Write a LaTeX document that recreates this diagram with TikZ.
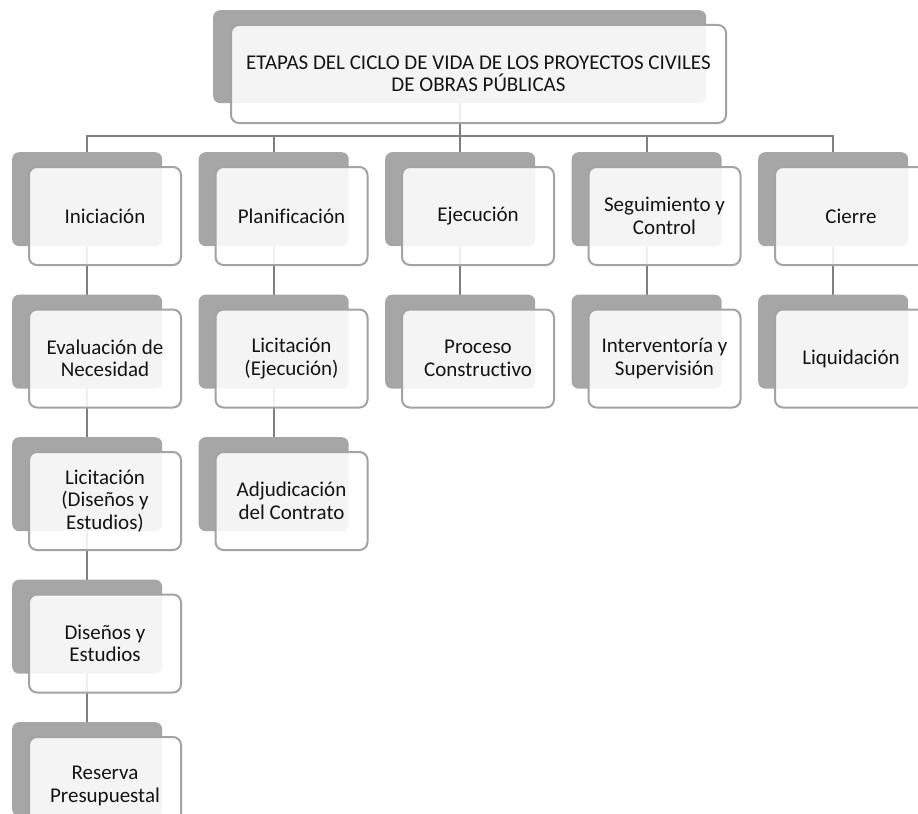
\documentclass[tikz,border=0pt]{standalone}
\usepackage{fontspec}
\setmainfont{Carlito}[Ligatures={NoCommon}]
\usetikzlibrary{backgrounds}
\definecolor{backgray}{HTML}{A6A6A6}
\definecolor{edgegray}{HTML}{A3A3A3}
\definecolor{linkgray}{HTML}{7F7F7F}
\definecolor{txtcol}{HTML}{141414}
\newcommand\twobox[4]{%
  \node[backbox] (#1) at (#2,#3) {};
  \node[frontbox] (#1f) at (#2+16,#3+14) {#4};}
\begin{document}
\begin{tikzpicture}[x=1bp,y=-1bp,
  backbox/.style={fill=backgray, rounded corners=7bp, minimum width=150bp, minimum height=94bp, inner sep=0pt, anchor=north west},
  frontbox/.style={fill=white, fill opacity=0.88, text opacity=1, draw=edgegray, line width=2bp, rounded corners=8bp, minimum width=152bp, minimum height=98bp, inner sep=0pt, anchor=north west, align=center, text=txtcol, font=\fontsize{21bp}{22.5bp}\selectfont},
  link/.style={draw=linkgray, line width=2.4bp}]
\useasboundingbox (0,0) rectangle (918,814);
\clip (0,0) rectangle (918,814);

% top
\node[backbox, minimum width=493bp, minimum height=93bp] (top) at (213,10) {};
\node[frontbox, minimum width=495bp, minimum height=98bp] (topf) at (230,24)
  {ETAPAS DEL CICLO DE VIDA DE LOS PROYECTOS CIVILES\\DE OBRAS PÚBLICAS};

% column 1
\twobox{a1}{12}{152}{Iniciación}
\twobox{a2}{12}{294.5}{Evaluación de\\Necesidad}
\twobox{a3}{12}{437}{Licitación\\(Diseños y\\Estudios)}
\twobox{a4}{12}{579.5}{Diseños y\\Estudios}
\twobox{a5}{12}{722}{Reserva\\Presupuestal}
% column 2
\twobox{b1}{198.5}{152}{Planificación}
\twobox{b2}{198.5}{294.5}{Licitación\\(Ejecución)}
\twobox{b3}{198.5}{437}{Adjudicación\\del Contrato}
% column 3
\twobox{c1}{385}{152}{Ejecución}
\twobox{c2}{385}{294.5}{Proceso\\Constructivo}
% column 4
\twobox{d1}{571.5}{152}{Seguimiento y\\Control}
\twobox{d2}{571.5}{294.5}{Interventoría y\\Supervisión}
% column 5
\twobox{e1}{758}{152}{Cierre}
\twobox{e2}{758}{294.5}{Liquidación}

\begin{scope}[on background layer]
  \fill[white] (0,0) rectangle (918,814);
  \coordinate (bus) at (0,136);
  \draw[link] (top.center) -- (top.center |- bus);
  \foreach \n in {a1,b1,c1,d1,e1}
    \draw[link] (top.center |- bus) -| (\n.center);
  \draw[link] (a1.center) -- (a2.center);
  \draw[link] (a2.center) -- (a3.center);
  \draw[link] (a3.center) -- (a4.center);
  \draw[link] (a4.center) -- (a5.center);
  \draw[link] (b1.center) -- (b2.center);
  \draw[link] (b2.center) -- (b3.center);
  \draw[link] (c1.center) -- (c2.center);
  \draw[link] (d1.center) -- (d2.center);
  \draw[link] (e1.center) -- (e2.center);
\end{scope}
\end{tikzpicture}
\end{document}
